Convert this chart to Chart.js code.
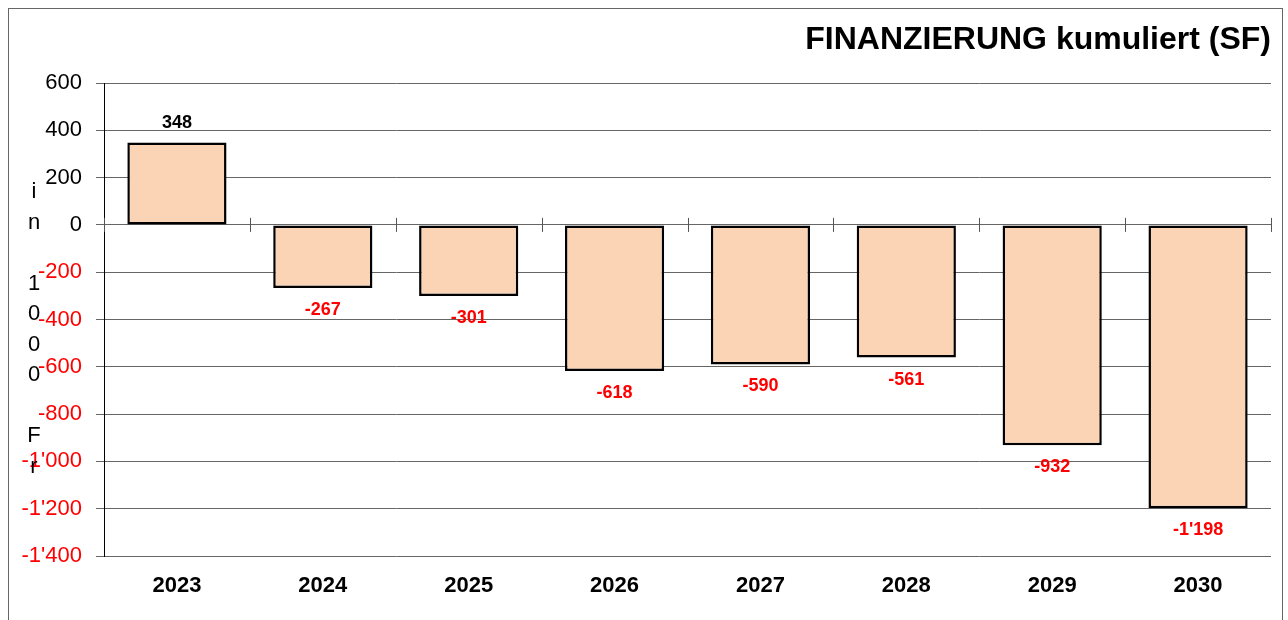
<!DOCTYPE html>
<html>
<head>
<meta charset="utf-8">
<script src="https://cdn.jsdelivr.net/npm/chart.js@4/dist/chart.umd.min.js"></script>
<style>
  html, body { margin: 0; padding: 0; background: #fff; }
  #wrap { position: relative; width: 1288px; height: 620px; overflow: hidden; }
  #frame { position: absolute; left: 8px; top: 8px; width: 1275px; height: 700px; border: 1px solid #666; box-sizing: border-box; }
  #chart { position: absolute; left: 0; top: 0; }
</style>
</head>
<body>
<div id="wrap">
  <div id="frame"></div>
  <canvas id="chart" width="1288" height="620"></canvas>
</div>
<script>
const years = ['2023', '2024', '2025', '2026', '2027', '2028', '2029', '2030'];
const financing = [348, -267, -301, -618, -590, -561, -932, -1198];
const yMin = -1400;
const yMax = 600;
const yStep = 200;
const axisTitle = 'in 1000 Fr';

const FONT = '"Liberation Sans", Arial, sans-serif';

// swiss style: 1'198
function fmt(v) {
  const s = Math.abs(v).toString().replace(/\B(?=(\d{3})+(?!\d))/g, "'");
  return (v < 0 ? '-' : '') + s;
}

// value labels above / below the bars
const barLabels = {
  id: 'barLabels',
  afterDatasetsDraw(chart) {
    const ctx = chart.ctx;
    const meta = chart.getDatasetMeta(0);
    ctx.save();
    ctx.font = 'bold 18px ' + FONT;
    ctx.textAlign = 'center';
    ctx.textBaseline = 'middle';
    meta.data.forEach((bar, i) => {
      const v = financing[i];
      ctx.fillStyle = v < 0 ? '#FF0000' : '#000000';
      ctx.fillText(fmt(v), bar.x, v < 0 ? bar.y + 22 : bar.y - 20);
    });
    ctx.restore();
  }
};

// small category ticks crossing the zero line
const zeroTicks = {
  id: 'zeroTicks',
  afterDatasetsDraw(chart) {
    const ctx = chart.ctx;
    const x = chart.scales.x;
    const y0 = chart.scales.y.getPixelForValue(0);
    const step = x.getPixelForValue(1) - x.getPixelForValue(0);
    ctx.save();
    ctx.strokeStyle = '#555';
    ctx.lineWidth = 1;
    for (let i = 0; i <= years.length; i++) {
      const px = Math.round(x.getPixelForValue(i) - step / 2) + 0.5;
      ctx.beginPath();
      ctx.moveTo(px, y0 - 7);
      ctx.lineTo(px, y0 + 7);
      ctx.stroke();
    }
    ctx.restore();
  }
};

// stacked letters of the y axis title
const stackedTitle = {
  id: 'stackedTitle',
  afterDraw(chart) {
    const ctx = chart.ctx;
    const area = chart.chartArea;
    const pitch = 30.5;
    const mid = (area.top + area.bottom) / 2 + 10;
    const chars = axisTitle.split('');
    ctx.save();
    ctx.font = '22px ' + FONT;
    ctx.fillStyle = '#000';
    ctx.textAlign = 'center';
    ctx.textBaseline = 'middle';
    chars.forEach((c, i) => {
      ctx.fillText(c, 34, mid + (i - (chars.length - 1) / 2) * pitch);
    });
    ctx.restore();
  }
};

const ctx = document.getElementById('chart').getContext('2d');
new Chart(ctx, {
  type: 'bar',
  data: {
    labels: years,
    datasets: [{
      data: financing,
      backgroundColor: '#FAD4B4',
      borderColor: '#000',
      borderWidth: 2.5,
      borderSkipped: false,
      barPercentage: 0.68,
      categoryPercentage: 1
    }]
  },
  options: {
    responsive: false,
    animation: false,
    layout: { padding: { left: 0, right: 17, top: 0, bottom: 0 } },
    plugins: {
      legend: { display: false },
      tooltip: { enabled: false },
      title: {
        display: true,
        text: 'FINANZIERUNG kumuliert (SF)',
        align: 'end',
        color: '#000',
        font: { family: FONT, size: 32, weight: 'bold' },
        padding: { top: 21, bottom: 23.6 }
      }
    },
    scales: {
      x: {
        grid: { display: false },
        border: { display: false },
        ticks: {
          color: '#000',
          padding: 9,
          font: { family: FONT, size: 22, weight: 'bold' }
        },
        afterFit(scale) { scale.height = 64; }
      },
      y: {
        min: yMin,
        max: yMax,
        ticks: {
          stepSize: yStep,
          padding: 14,
          color: c => (c.tick && c.tick.value < 0 ? '#FF0000' : '#000000'),
          font: { family: FONT, size: 22 },
          callback: v => fmt(v)
        },
        grid: { color: '#666', lineWidth: 1, tickLength: 8 },
        border: { display: true, color: '#000', width: 1 },
        afterFit(scale) { scale.width = 104; }
      }
    }
  },
  plugins: [barLabels, zeroTicks, stackedTitle]
});
</script>
</body>
</html>
